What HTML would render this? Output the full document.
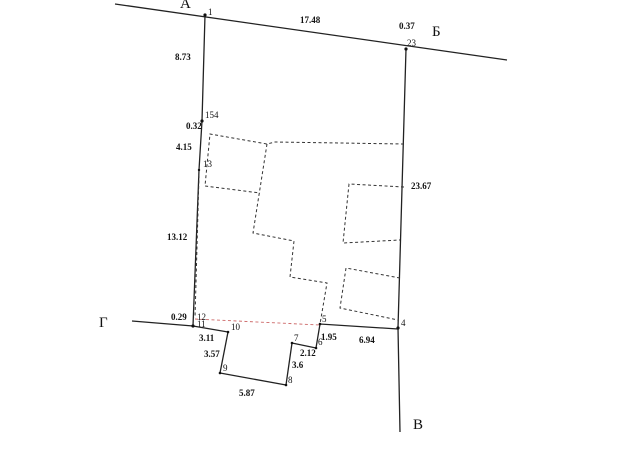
<!DOCTYPE html>
<html><head><meta charset="utf-8"><style>
html,body{margin:0;padding:0;background:#fff;}
svg{display:block;}
text{font-family:"Liberation Serif",serif;fill:#111;}
.b{font-weight:bold;font-size:9px;}
.n{font-size:9px;}
.L{font-size:15px;}
</style></head><body>
<svg width="620" height="460" viewBox="0 0 620 460" xmlns="http://www.w3.org/2000/svg">
<g fill="none" stroke="#222" stroke-width="1.3">
<line x1="115" y1="4" x2="507" y2="60"/>
<polyline points="205,15 202,121 199,170 193,326"/>
<polyline points="406,49 398,328 400,432"/>
<polyline points="132,321 193,326 228,332 220,373 286,385 292,343 316,348 320,324 398,329"/>
</g>
<g fill="none" stroke="#333" stroke-width="1" stroke-dasharray="3,2.5">
<polyline points="404,144 275,142 267,144 210,134 205,186 260,193"/>
<polyline points="267,144 253,233 294,241 290,277 327,283 320,324"/>
<polyline points="404,187 349,184 343,243 400,240"/>
<polyline points="400,278 346,268 340,308 398,320"/>
<line x1="199" y1="175" x2="195" y2="318"/>
</g>
<line x1="195" y1="319" x2="320" y2="325" stroke="#c66" stroke-width="0.9" stroke-dasharray="3,2.5"/>
<g fill="#111">
<circle cx="205" cy="15" r="1.6"/><circle cx="406" cy="49" r="1.6"/><circle cx="202" cy="121" r="1.6"/>
<circle cx="199" cy="170" r="1.2"/><circle cx="193" cy="326" r="1.6"/><circle cx="228" cy="332" r="1.3"/>
<circle cx="220" cy="373" r="1.3"/><circle cx="286" cy="385" r="1.3"/><circle cx="292" cy="343" r="1.3"/>
<circle cx="316" cy="348" r="1.3"/><circle cx="320" cy="324" r="1.3"/><circle cx="398" cy="328" r="1.6"/>
</g>
<text class="L" x="180" y="8">А</text>
<text class="L" x="432" y="36">Б</text>
<text class="L" x="99" y="327">Г</text>
<text class="L" x="413" y="429">В</text>
<text class="n" x="208" y="15">1</text>
<text class="n" x="407" y="46">23</text>
<text class="n" x="205" y="118">154</text>
<text class="n" x="203" y="167">13</text>
<text class="n" x="197" y="320">12</text>
<text class="n" x="197" y="327">11</text>
<text class="n" x="231" y="330">10</text>
<text class="n" x="223" y="371">9</text>
<text class="n" x="288" y="383">8</text>
<text class="n" x="294" y="341">7</text>
<text class="n" x="318" y="345">6</text>
<text class="n" x="322" y="322">5</text>
<text class="n" x="401" y="326">4</text>
<text class="b" x="300" y="23">17.48</text>
<text class="b" x="399" y="29">0.37</text>
<text class="b" x="175" y="60">8.73</text>
<text class="b" x="186" y="129">0.32</text>
<text class="b" x="176" y="150">4.15</text>
<text class="b" x="411" y="189">23.67</text>
<text class="b" x="167" y="240">13.12</text>
<text class="b" x="171" y="320">0.29</text>
<text class="b" x="199" y="341">3.11</text>
<text class="b" x="204" y="357">3.57</text>
<text class="b" x="239" y="396">5.87</text>
<text class="b" x="300" y="356">2.12</text>
<text class="b" x="292" y="368">3.6</text>
<text class="b" x="321" y="340">1.95</text>
<text class="b" x="359" y="343">6.94</text>
</svg>
</body></html>
